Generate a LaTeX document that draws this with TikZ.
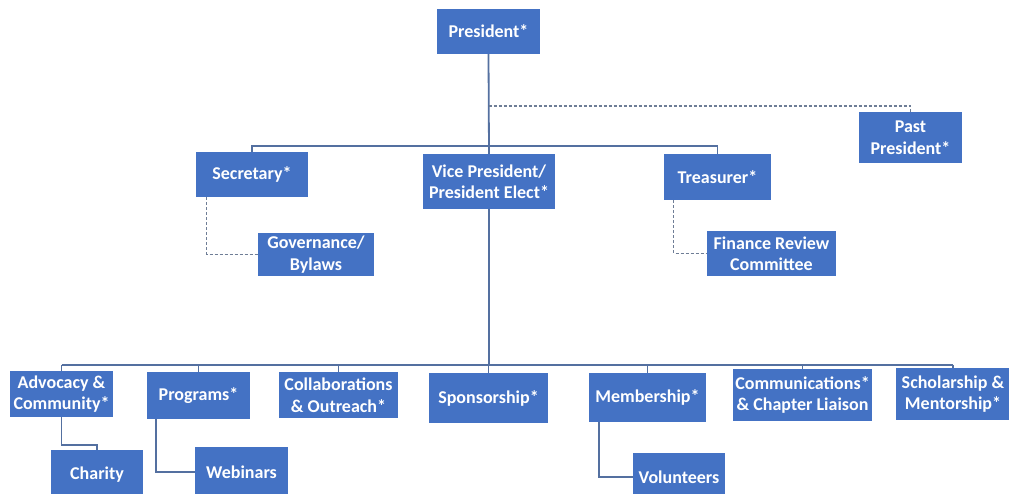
\documentclass[tikz,border=0pt]{standalone}
\usepackage{fontspec}
\setmainfont{Carlito}
\definecolor{boxblue}{RGB}{68,114,196}
\definecolor{lineblue}{RGB}{84,112,160}
\definecolor{dashgray}{RGB}{110,125,150}
\begin{document}
\begin{tikzpicture}[x=1pt,y=-1pt,
  box/.style={fill=boxblue, draw=none, text=white, inner sep=0pt, align=center,
    font=\fontsize{18}{21.5}\selectfont\bfseries},
  conn/.style={draw=lineblue, line width=1.8pt},
  dconn/.style={draw=dashgray, line width=1.2pt, dash pattern=on 3pt off 2pt}]
\useasboundingbox (0,0) rectangle (1009,493);
\fill[white] (0,0) rectangle (1009,493);
% top level
\node[box, minimum width=103pt, minimum height=45pt] (pres) at (488.5,31.5) {President*};
\node[box, minimum width=103pt, minimum height=51pt] (past) at (910.5,137.5) {Past\\President*};
\node[box, minimum width=112pt, minimum height=45pt] (sec) at (252,174.5) {Secretary*};
\node[box, minimum width=132pt, minimum height=55pt] (vp) at (489,181.5) {Vice President/\\President Elect*};
\node[box, minimum width=107pt, minimum height=46pt] (tre) at (717.5,177) {Treasurer*};
\node[box, minimum width=116pt, minimum height=43pt] (gov) at (316,254.5) {Governance/\\Bylaws};
\node[box, minimum width=129pt, minimum height=45pt] (fin) at (771.5,253.5) {Finance Review\\Committee};
% bottom row
\node[box, minimum width=103pt, minimum height=46pt] (adv) at (61.5,394) {Advocacy \&\\Community*};
\node[box, minimum width=103pt, minimum height=47pt] (prog) at (198.5,395.5) {Programs*};
\node[box, minimum width=119pt, minimum height=46pt] (coll) at (338.5,395) {Collaborations\\\& Outreach*};
\node[box, minimum width=119pt, minimum height=50pt] (spon) at (488.5,398) {Sponsorship*};
\node[box, minimum width=117pt, minimum height=49pt] (mem) at (647.5,397.5) {Membership*};
\node[box, minimum width=139pt, minimum height=52pt] (comm) at (802.5,395) {Communications*\\\& Chapter Liaison};
\node[box, minimum width=114pt, minimum height=52pt] (sch) at (953,394) {Scholarship \&\\Mentorship*};
\node[box, minimum width=92pt, minimum height=50pt] (char) at (97,475) {Charity};
\node[box, minimum width=93pt, minimum height=50pt] (web) at (241.5,472) {Webinars};
\node[box, minimum width=92pt, minimum height=48pt] (vol) at (679,477) {Volunteers};
% coordinates
\coordinate (pd) at (488.5,106);
\coordinate (ub) at (488.5,146);
\coordinate (lb) at (489,365);
% connectors
\draw[conn] (pres.south) -- (vp.north);
\draw[conn] (sec.north) -- (sec.north |- ub) -- (tre.north |- ub) -- (tre.north);
\draw[dconn] (pd) -| (past.north);
\draw[dconn] ([xshift=11pt]sec.south west) |- (gov.west);
\draw[dconn] ([xshift=10pt]tre.south west) |- (fin.west);
\draw[conn] (vp.south) -- (lb);
\draw[conn] (adv.north |- lb) -- (sch.north |- lb);
\foreach \n in {adv,prog,coll,spon,mem,comm,sch} {
  \draw[conn] (\n.north) -- (\n.north |- lb);
}
\draw[conn] (adv.south) -- ++(0,28) -| (char.north);
\draw[conn] ([xshift=9pt]prog.south west) |- (web.west);
\draw[conn] ([xshift=10pt]mem.south west) |- (vol.west);
\end{tikzpicture}
\end{document}
